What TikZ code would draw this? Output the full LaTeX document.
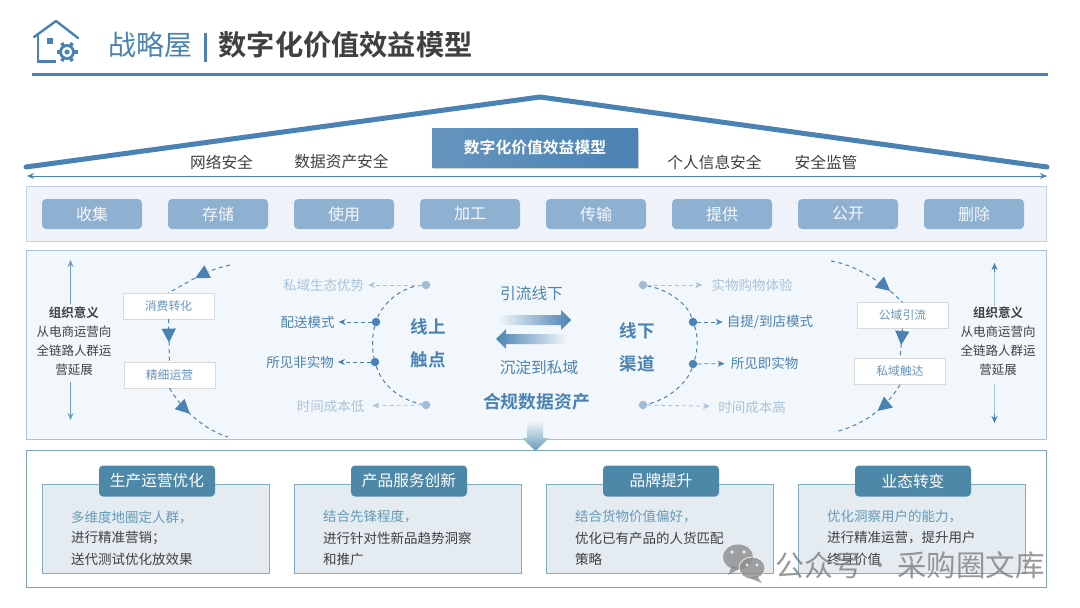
\documentclass[tikz,border=0pt]{standalone}
\usepackage{fontspec}
\setmainfont{Noto Sans CJK SC}[BoldFont={Noto Sans CJK SC Bold}]
\usetikzlibrary{calc,arrows.meta,decorations.markings,shadows}
\definecolor{roofblue}{HTML}{4A82B3}
\definecolor{stepblue}{HTML}{8FB1D1}
\definecolor{faintblue}{HTML}{A9C3DA}
\definecolor{tealblue}{HTML}{4D88A8}
\definecolor{inktext}{HTML}{404040}
\definecolor{bandone}{HTML}{EFF3F9}
\definecolor{bandtwo}{HTML}{F2F7FB}
\definecolor{cardfill}{HTML}{E4ECF2}
\newcommand{\fsz}[2]{\fontsize{#1}{#2}\selectfont}
\tikzset{
    txt/.style={inner sep=0pt,text=inktext,font=\fsz{12.5}{19},align=center},
    safety/.style={inner sep=0pt,text=inktext,font=\fsz{15.7}{18}},
    stepbox/.style={fill=stepblue,rounded corners=4pt,minimum width=100pt,minimum height=30pt,inner sep=0pt,text=white!92!stepblue,font=\fsz{16}{18}},
    whitebox/.style={draw=black!15,fill=white,minimum width=91pt,minimum height=26pt,inner sep=0pt,text=roofblue!85,font=\fsz{11.8}{14}},
    flow/.style={roofblue,dashed,dash pattern=on 4pt off 3.5pt,line width=1pt},
    midtip/.style={decoration={markings,mark=at position #1 with {\arrow{Triangle[length=14pt,width=14pt]}}},postaction={decorate}},
    touch/.style={inner sep=0pt,font=\fsz{13.5}{16}},
    strong/.style={touch,text=roofblue},
    faint/.style={touch,text=faintblue},
    darkdot/.style={circle,fill=roofblue,minimum size=8.5pt,inner sep=0pt},
    paledot/.style={circle,fill=faintblue!90!roofblue,minimum size=8.5pt,inner sep=0pt},
    leader/.style={dashed,dash pattern=on 4pt off 3pt,line width=.8pt,-{Stealth[length=7pt,width=6pt]},shorten >=4pt},
    bigword/.style={inner sep=0pt,text=roofblue,font=\bfseries\fsz{17.5}{20}},
    cardbox/.style={draw=tealblue!70,fill=cardfill,minimum width=226.5pt,minimum height=88.5pt,inner sep=0pt},
    tabbox/.style={fill=tealblue,rounded corners=4pt,minimum width=116pt,minimum height=31pt,inner sep=0pt,text=white,font=\fsz{15.7}{18}}
}
\begin{document}
\begin{tikzpicture}[x=1pt,y=-1pt]
    \path[fill=white,use as bounding box] (0,0) rectangle (1080,608);

    % title
    \draw[roofblue,line width=2.4pt,line join=round,line cap=round] (34,37) -- (56,21) -- (78,38);
    \draw[roofblue,line width=2.4pt] (38,34) -- (38,61.5) -- (56,61.5);
    \fill[roofblue] (47,38) rectangle (53,44);
    \draw[roofblue,line width=2.8pt] (67,52) circle (6.5pt);
    \fill[roofblue] (67,52) circle (2.6pt);
    \foreach \a in {0,60,...,300}
        \draw[roofblue,line width=3.4pt] ($(67,52)+(\a:7pt)$) -- ($(67,52)+(\a:10.5pt)$);
    \node[inner sep=0pt,text=roofblue,font=\fsz{28}{30}] (titleleft) at (150.5,45) {战略屋};
    \coordinate (bartop) at (205.5,33);
    \coordinate (barend) at (205.5,62);
    \draw[roofblue,line width=3.5pt] (bartop) -- (barend);
    \node[inner sep=0pt,text=black!75,font=\bfseries\fsz{28.2}{30}] (titleright) at (345.5,45) {数字化价值效益模型};
    \coordinate (ruleL) at (32,74);
    \coordinate (ruleR) at (1048,74);
    \draw[roofblue,line width=3pt] (ruleL) -- (ruleR);

    % roof
    \coordinate (roofL) at (26,167);
    \coordinate (roofT) at (540,97);
    \coordinate (roofR) at (1047,167);
    \draw[roofblue,line width=5pt,line cap=round,line join=miter] (roofL) -- (roofT) -- (roofR);
    \coordinate (spanL) at (27,176);
    \coordinate (spanR) at (1047,176);
    \draw[roofblue,line width=1pt,{Stealth[length=7pt,width=6pt]}-{Stealth[length=7pt,width=6pt]}] (spanL) -- (spanR);
    \node[safety] (safeA) at (221.5,162) {网络安全};
    \node[safety] (safeB) at (341.5,162) {数据资产安全};
    \node[safety] (safeC) at (714.5,162) {个人信息安全};
    \node[safety] (safeD) at (826,162) {安全监管};
    \node[minimum width=206pt,minimum height=38.5pt,inner sep=0pt,left color=roofblue!85,right color=roofblue,drop shadow={shadow xshift=1pt,shadow yshift=-2pt,fill=black!35},text=white,font=\bfseries\fsz{15.8}{18}] (banner) at (535,148) {数字化价值效益模型};

    % lifecycle band
    \fill[fill=bandone,draw=faintblue!70,line width=1pt] (26.5,186.5) rectangle (1046.5,241);
    \foreach \x/\word [count=\i] in {92/收集,218/存储,344/使用,470/加工,596/传输,722/提供,848/公开,974/删除}
        \node[stepbox] (step\i) at (\x,214) {\word};

    % middle band
    \fill[fill=bandtwo,draw=faintblue,line width=1pt] (26.5,250.5) rectangle (1046.5,439);

    % organisation notes
    \node[txt] (orgL) at (74,341) {\textbf{组织意义}\\从电商运营向\\全链路人群运\\营延展};
    \node[txt] (orgR) at (998,341) {\textbf{组织意义}\\从电商运营向\\全链路人群运\\营延展};
    \coordinate (orgLtop) at (70.5,260);
    \coordinate (orgLend) at (70.5,420);
    \coordinate (orgRtop) at (994.5,263);
    \coordinate (orgRend) at (994.5,423);
    \draw[roofblue!80,line width=.8pt,-{Stealth[length=7pt,width=6pt]}] (70.5,304) -- (orgLtop);
    \draw[roofblue!80,line width=.8pt,-{Stealth[length=7pt,width=6pt]}] (70.5,382) -- (orgLend);
    \draw[faintblue,line width=.8pt] (994.5,306) -- (orgRtop);
    \draw[faintblue,line width=.8pt] (994.5,384) -- (orgRend);
    \draw[roofblue,-{Stealth[length=7pt,width=6pt]}] (994.5,272) -- (orgRtop);
    \draw[roofblue,-{Stealth[length=7pt,width=6pt]}] (994.5,414) -- (orgRend);

    % left cycle
    \node[whitebox] (boxA) at (168.5,306) {消费转化};
    \node[whitebox] (boxB) at (169.5,375) {精细运营};
    \coordinate (cycA) at (230,265);
    \coordinate (cycB) at (228,437);
    \draw[flow,midtip=.55] (cycA) .. controls (210,269) and (195,278) .. (boxA.north);
    \draw[flow,midtip=.55] (boxA.south) -- (boxB.north);
    \draw[flow,midtip=.42] (boxB.south) .. controls (182,410) and (205,430) .. (cycB);

    % right cycle
    \node[whitebox] (boxC) at (902.5,315.5) {公域引流};
    \node[whitebox] (boxD) at (900,371.5) {私域触达};
    \coordinate (cycC) at (831,261);
    \coordinate (cycD) at (835,432);
    \draw[flow,midtip=.8] (cycC) .. controls (855,265) and (880,280) .. (boxC.north);
    \draw[flow,midtip=.55] (boxC.south) -- (boxD.north);
    \draw[flow,midtip=.42] (boxD.south) .. controls (885,410) and (862,425) .. (cycD);

    % online points
    \node[paledot] (onA) at (426,285) {};
    \node[darkdot] (onB) at (376,322) {};
    \node[darkdot] (onC) at (375,362) {};
    \node[paledot] (onD) at (426,405) {};
    \draw[flow] (onA) .. controls (400,287) and (382,305) .. (onB);
    \draw[flow] (onB) .. controls (372,335) and (372,350) .. (onC);
    \draw[flow] (onC) .. controls (382,385) and (400,400) .. (onD);
    \node[faint] (onTa) at (323.5,285) {私域生态优势};
    \node[strong] (onTb) at (307.5,322) {配送模式};
    \node[strong] (onTc) at (300,362) {所见非实物};
    \node[faint] (onTd) at (330.5,406) {时间成本低};
    \draw[leader,faintblue] (onA) -- (onTa);
    \draw[leader,roofblue] (onB) -- (onTb);
    \draw[leader,roofblue] (onC) -- (onTc);
    \draw[leader,faintblue,shorten >=8pt] (onD) -- (onTd);
    \node[bigword] (onW) at (428,327) {线上};
    \node[bigword] (onX) at (428,360) {触点};

    % offline points
    \node[paledot] (offA) at (643,285) {};
    \node[darkdot] (offB) at (693,322) {};
    \node[darkdot] (offC) at (693,364) {};
    \node[paledot] (offD) at (643,405) {};
    \draw[flow] (offA) .. controls (670,290) and (688,305) .. (offB);
    \draw[flow] (offB) .. controls (698,335) and (698,350) .. (offC);
    \draw[flow] (offC) .. controls (688,382) and (668,400) .. (offD);
    \node[faint] (offTa) at (752,285) {实物购物体验};
    \node[strong] (offTb) at (770,322) {自提/到店模式};
    \node[strong] (offTc) at (764.5,363) {所见即实物};
    \node[faint] (offTd) at (752,407) {时间成本高};
    \draw[leader,faintblue,shorten >=9pt] (offA) -- (offTa);
    \draw[leader,roofblue] (offB) -- (offTb);
    \draw[leader,roofblue,shorten >=6pt] (offC) -- (offTc);
    \draw[leader,faintblue,shorten >=8pt] (offD) -- (offTd);
    \node[bigword] (offW) at (637,331) {线下};
    \node[bigword] (offX) at (637,364) {渠道};

    % centre
    \node[strong,font=\fsz{15.7}{18}] (toOff) at (531.5,294) {引流线下};
    \node[strong,font=\fsz{15.7}{18}] (toPriv) at (539,368) {沉淀到私域};
    \shade[left color=bandtwo,right color=roofblue] (498,315) -- (561,315) -- (561,310) -- (571,320) -- (561,330) -- (561,325) -- (498,325) -- cycle;
    \shade[right color=bandtwo,left color=roofblue] (567,334) -- (506,334) -- (506,329) -- (496,339) -- (506,349) -- (506,344) -- (567,344) -- cycle;
    \node[bigword,font=\bfseries\fsz{17.8}{20}] (asset) at (536.5,402) {合规数据资产};
    \shade[top color=bandtwo,bottom color=tealblue!85] (527,421) -- (543,421) -- (543,438) -- (549,438) -- (535.5,451) -- (522,438) -- (527,438) -- cycle;

    % benefit band
    \draw[tealblue!75,line width=1pt] (26.5,450.5) rectangle (1046.5,587.5);
    \foreach \x/\head/\la/\lb/\lc [count=\i] in {
        42/生产运营优化/多维度地圈定人群，/进行精准营销；/送代测试优化放效果,
        294/产品服务创新/结合先锋程度，/进行针对性新品趋势洞察/和推广,
        546/品牌提升/结合货物价值偏好，/优化已有产品的人货匹配/策略,
        798/业态转变/优化洞察用户的能力，/进行精准运营，提升用户/终身价值}{
        \node[cardbox,anchor=north west] (card\i) at (\x,484) {};
        \node[tabbox] (tab\i) at ($(\x,481)+(115,0)$) {\head};
        \node[touch,anchor=west,text=tealblue!85] (cardA\i) at ($(\x,517)+(29,0)$) {\la};
        \node[touch,anchor=west,text=inktext] (cardB\i) at ($(\x,538)+(29,0)$) {\lb};
        \node[touch,anchor=west,text=inktext] (cardC\i) at ($(\x,559)+(29,0)$) {\lc};
    }

    % watermark
    \begin{scope}[opacity=.8]
        \fill[black!45] (738,557) ellipse (15pt and 12.5pt);
        \fill[black!45] (732,566) -- (728,575) -- (741,568) -- cycle;
        \fill[white] (732,552) circle (1.8pt) (744,552) circle (1.8pt);
        \fill[black!45,draw=white,line width=.8pt] (752,568) ellipse (13pt and 11pt);
        \fill[black!45] (757,576) -- (762,583) -- (749,578) -- cycle;
        \fill[white] (747,565) circle (1.7pt) (757,565) circle (1.7pt);
        \node[inner sep=0pt,text=black!50,font=\fsz{29}{32}] (markA) at (819,565) {公众号};
        \fill[black!50] (880,565) circle (2pt);
        \node[inner sep=0pt,text=black!50,font=\fsz{29.5}{32}] (markB) at (971,565) {采购圈文库};
    \end{scope}
\end{tikzpicture}
\end{document}
